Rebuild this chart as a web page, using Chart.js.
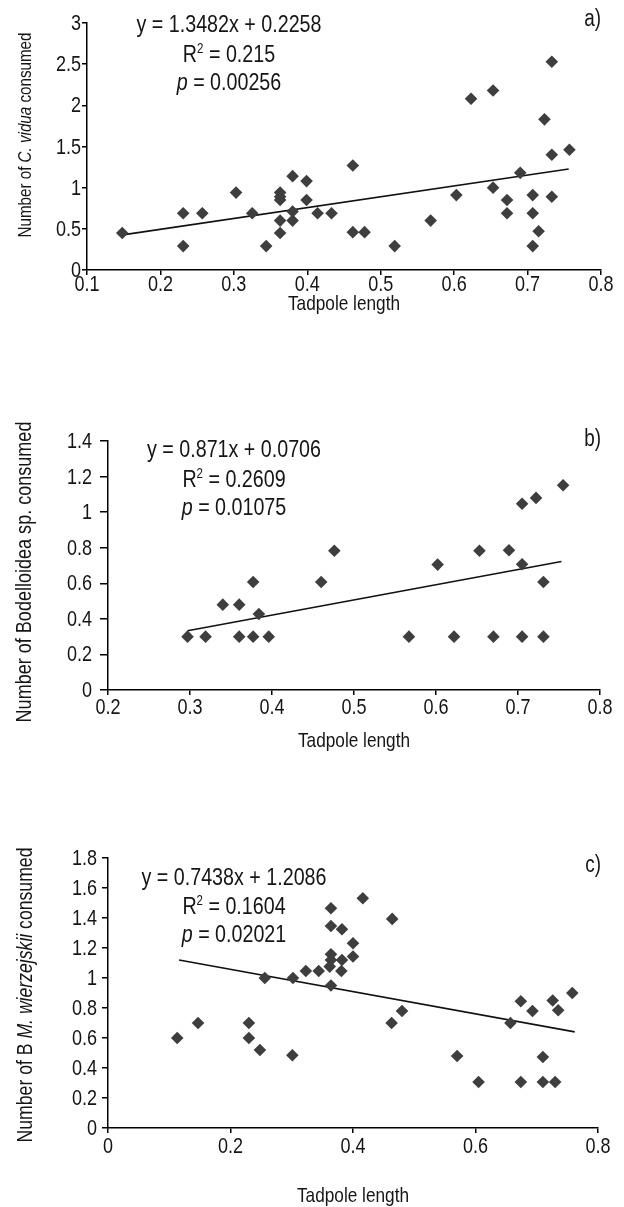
<!DOCTYPE html>
<html><head><meta charset="utf-8">
<script src="https://cdn.jsdelivr.net/npm/chart.js@4.4.1/dist/chart.umd.min.js"></script>
<style>
html,body{margin:0;padding:0;background:#fff;width:624px;height:1207px;overflow:hidden}
.p{position:absolute;left:0;width:624px}
canvas{display:block}
</style></head><body>
<div class="p" style="top:0;height:330px"><canvas id="ca"></canvas></div>
<div class="p" style="top:330px;height:430px"><canvas id="cb"></canvas></div>
<div class="p" style="top:760px;height:447px"><canvas id="cc"></canvas></div>
<script>
// ---------- data: panel a ----------
const aX = [0.148,0.231,0.231,0.257,0.303,0.325,0.344,0.363,0.363,0.363,0.363,0.363,0.380,0.380,0.380,0.399,0.399,0.414,0.433,0.462,0.462,0.478,0.519,0.568,0.603,0.623,0.653,0.653,0.672,0.672,0.690,0.707,0.707,0.707,0.715,0.723,0.733,0.733,0.733,0.757];
const aY = [0.45,0.69,0.29,0.69,0.94,0.69,0.29,0.94,0.89,0.85,0.60,0.45,1.14,0.71,0.60,1.08,0.85,0.69,0.69,1.27,0.46,0.46,0.29,0.60,0.91,2.08,2.18,1.00,0.85,0.69,1.18,0.91,0.69,0.29,0.47,1.83,2.53,1.40,0.89,1.46];
const aTrendX = [0.151,0.756];
const aTrendY = [0.43,1.227];
const aXTicks = [0.1,0.2,0.3,0.4,0.5,0.6,0.7,0.8];
const aXLabels = ['0.1','0.2','0.3','0.4','0.5','0.6','0.7','0.8'];
const aYTicks = [0,0.5,1,1.5,2,2.5,3];
const aYLabels = ['0','0.5','1','1.5','2','2.5','3'];

// ---------- data: panel b ----------
const bX = [0.297,0.319,0.340,0.360,0.360,0.377,0.377,0.384,0.396,0.460,0.476,0.567,0.602,0.622,0.653,0.670,0.689,0.705,0.705,0.705,0.722,0.731,0.731,0.755];
const bY = [0.30,0.30,0.48,0.48,0.30,0.607,0.30,0.427,0.30,0.607,0.783,0.30,0.705,0.30,0.783,0.30,0.786,1.047,0.707,0.30,1.08,0.607,0.30,1.151];
const bTrendX = [0.297,0.753];
const bTrendY = [0.333,0.722];
const bXTicks = [0.2,0.3,0.4,0.5,0.6,0.7,0.8];
const bXLabels = ['0.2','0.3','0.4','0.5','0.6','0.7','0.8'];
const bYTicks = [0,0.2,0.4,0.6,0.8,1,1.2,1.4];
const bYLabels = ['0','0.2','0.4','0.6','0.8','1','1.2','1.4'];

// ---------- data: panel c ----------
const cX = [0.113,0.147,0.230,0.230,0.248,0.256,0.301,0.302,0.323,0.344,0.364,0.364,0.364,0.364,0.362,0.364,0.382,0.382,0.381,0.400,0.400,0.416,0.464,0.463,0.480,0.570,0.605,0.657,0.674,0.674,0.693,0.710,0.710,0.730,0.726,0.735,0.758];
const cY = [0.60,0.70,0.70,0.60,0.52,1.00,0.485,1.00,1.047,1.047,1.465,1.347,1.158,1.12,1.076,0.95,1.325,1.12,1.047,1.232,1.143,1.532,1.394,0.70,0.78,0.48,0.307,0.70,0.845,0.307,0.78,0.473,0.307,0.307,0.85,0.785,0.90];
const cTrendX = [0.116,0.762];
const cTrendY = [1.12,0.641];
const cXTicks = [0,0.2,0.4,0.6,0.8];
const cXLabels = ['0','0.2','0.4','0.6','0.8'];
const cYTicks = [0,0.2,0.4,0.6,0.8,1,1.2,1.4,1.6,1.8];
const cYLabels = ['0','0.2','0.4','0.6','0.8','1','1.2','1.4','1.6','1.8'];

// ---------- styling ----------
const FONT = "'Liberation Sans','Arimo',Arial,sans-serif";
const SX = 0.82;            // horizontal condensing of the type
const MARK = '#3e3e3e';
const TXT = '#151515';

function fontStr(s, size){
  const sz = s.sup ? Math.round(size*0.58) : size;
  return (s.i ? 'italic ' : '') + sz + 'px ' + FONT;
}
function drawRich(ctx, segs, x, y, size, align){
  const w = segs.map(s => { ctx.font = fontStr(s,size); return ctx.measureText(s.t).width*SX; });
  const total = w.reduce((a,b)=>a+b,0);
  let cx = align==='center' ? x-total/2 : (align==='right' ? x-total : x);
  ctx.textAlign = 'left';
  ctx.textBaseline = 'middle';
  segs.forEach((s,k)=>{
    ctx.font = fontStr(s,size);
    ctx.save();
    ctx.translate(cx, s.sup ? y-size*0.24 : y);
    ctx.scale(SX,1);
    ctx.fillText(s.t, 0, 0);
    ctx.restore();
    cx += w[k];
  });
}
function textPlugin(P){
  return {
    id:'txt'+P.id,
    afterDraw(chart){
      const ctx = chart.ctx;
      const off = P.offset;
      const xs = chart.scales.x, ys = chart.scales.y;
      const ca = chart.chartArea;
      ctx.save();
      ctx.fillStyle = TXT;
      // tick labels
      P.xt.forEach((v,i)=>drawRich(ctx, [{t:P.xl[i]}], xs.getPixelForValue(v), ca.bottom + P.xLabDy, P.tickSize, 'center'));
      P.yt.forEach((v,i)=>drawRich(ctx, [{t:P.yl[i]}], ca.left - P.yLabDx, ys.getPixelForValue(v)+1, P.tickSize, 'right'));
      // annotation lines
      P.notes.forEach(n => drawRich(ctx, n.segs, n.x, n.y-off, n.size, n.align||'center'));
      // x title
      drawRich(ctx, [{t:'Tadpole length'}], (ca.left+ca.right)/2, P.xTitleY-off, P.xTitleSize, 'center');
      // y title
      ctx.save();
      ctx.translate(P.yTitleX, P.yTitleY-off);
      ctx.rotate(-Math.PI/2);
      drawRich(ctx, P.yTitle, 0, 0, P.yTitleSize, 'center');
      ctx.restore();
      ctx.restore();
    }
  };
}

function makeChart(canvasId, P){
  const pts = P.x.map((v,i)=>({x:v, y:P.y[i]}));
  const trend = P.tx.map((v,i)=>({x:v, y:P.ty[i]}));
  const grid = {display:true, drawOnChartArea:false, drawTicks:true, color:'#000', lineWidth:1.5};
  const border = {display:true, color:'#000', width:1.5};
  return new Chart(document.getElementById(canvasId), {
    type:'scatter',
    data:{datasets:[
      {data:pts, pointStyle:'rectRot', pointRadius:6.3, pointHoverRadius:6.3,
       pointBackgroundColor:MARK, pointBorderColor:MARK, pointBorderWidth:0, showLine:false, order:0, clip:false},
      {type:'line', data:trend, showLine:true, borderColor:'#111', borderWidth:1.6,
       pointRadius:0, fill:false, tension:0, order:1, clip:false}
    ]},
    options:{
      responsive:true, maintainAspectRatio:false, animation:false, events:[],
      layout:{padding:{left:0, right:624-P.right, top:P.top-P.offset, bottom:0}},
      plugins:{legend:{display:false}, tooltip:{enabled:false}},
      scales:{
        x:{type:'linear', position:'bottom', min:P.xt[0], max:P.xt[P.xt.length-1],
           afterBuildTicks:s=>{s.ticks = P.xt.map(v=>({value:v}));},
           afterFit:s=>{s.height = P.H - (P.bottom-P.offset);},
           ticks:{display:false},
           grid:Object.assign({}, grid, {tickLength:5}), border:border},
        y:{type:'linear', min:P.yt[0], max:P.yt[P.yt.length-1],
           afterBuildTicks:s=>{s.ticks = P.yt.map(v=>({value:v}));},
           afterFit:s=>{s.width = P.left;},
           ticks:{display:false},
           grid:Object.assign({}, grid, {tickLength:P.yTick}), border:border}
      }
    },
    plugins:[textPlugin(P)]
  });
}

makeChart('ca', {
  id:'a', offset:0, H:330, left:87, right:601, top:23, bottom:270,
  x:aX, y:aY, tx:aTrendX, ty:aTrendY, xt:aXTicks, xl:aXLabels, yt:aYTicks, yl:aYLabels,
  tickSize:22, xLabDy:15, yLabDx:6, yTick:5,
  xTitleY:304, xTitleSize:21,
  yTitle:[{t:'Number of '},{t:'C. vidua',i:1},{t:' consumed'}], yTitleX:26, yTitleY:135, yTitleSize:18.5,
  notes:[
    {segs:[{t:'y = 1.3482x + 0.2258'}], x:229, y:25, size:24},
    {segs:[{t:'R'},{t:'2',sup:1},{t:' = 0.215'}], x:229, y:55, size:24},
    {segs:[{t:'p',i:1},{t:' = 0.00256'}], x:229, y:83, size:24},
    {segs:[{t:'a)'}], x:601, y:20, size:23, align:'right'}
  ]
});
makeChart('cb', {
  id:'b', offset:330, H:430, left:108, right:600, top:441, bottom:690,
  x:bX, y:bY, tx:bTrendX, ty:bTrendY, xt:bXTicks, xl:bXLabels, yt:bYTicks, yl:bYLabels,
  tickSize:22, xLabDy:18, yLabDx:16, yTick:8,
  xTitleY:741, xTitleSize:21,
  yTitle:[{t:'Number of Bodelloidea sp. consumed'}], yTitleX:25, yTitleY:572, yTitleSize:22,
  notes:[
    {segs:[{t:'y = 0.871x + 0.0706'}], x:234, y:450, size:24},
    {segs:[{t:'R'},{t:'2',sup:1},{t:' = 0.2609'}], x:234, y:480, size:24},
    {segs:[{t:'p',i:1},{t:' = 0.01075'}], x:234, y:508, size:24},
    {segs:[{t:'b)'}], x:601, y:440, size:23, align:'right'}
  ]
});
makeChart('cc', {
  id:'c', offset:760, H:447, left:108, right:598, top:858, bottom:1128,
  x:cX, y:cY, tx:cTrendX, ty:cTrendY, xt:cXTicks, xl:cXLabels, yt:cYTicks, yl:cYLabels,
  tickSize:22, xLabDy:19, yLabDx:11, yTick:6,
  xTitleY:1196, xTitleSize:21,
  yTitle:[{t:'Number of B '},{t:'M. wierzejskii',i:1},{t:' consumed'}], yTitleX:26, yTitleY:995, yTitleSize:21.5,
  notes:[
    {segs:[{t:'y = 0.7438x + 1.2086'}], x:234, y:878, size:24},
    {segs:[{t:'R'},{t:'2',sup:1},{t:' = 0.1604'}], x:234, y:907, size:24},
    {segs:[{t:'p',i:1},{t:' = 0.02021'}], x:234, y:935, size:24},
    {segs:[{t:'c)'}], x:601, y:866, size:23, align:'right'}
  ]
});
</script>
</body></html>
